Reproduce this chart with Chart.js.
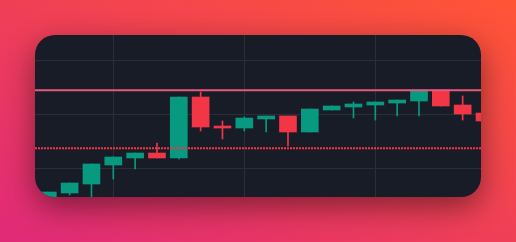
<!DOCTYPE html>
<html>
<head>
<meta charset="utf-8">
<script src="https://cdn.jsdelivr.net/npm/chart.js@4"></script>
<style>
  html, body { margin: 0; padding: 0; width: 516px; height: 242px; overflow: hidden; }
  body { position: relative; background: linear-gradient(to top right, #e02a78, #ff5535); }
  .card {
    position: absolute; left: 35px; top: 35px; width: 446px; height: 162px;
    border-radius: 20px; overflow: hidden; background: #181c27;
    box-shadow: 0 10px 30px rgba(0, 0, 0, 0.45);
  }
  canvas { display: block; }
</style>
</head>
<body>
<div class="card"><canvas id="candles"></canvas></div>
<script>
  // Candle index (x) and OHLC values.
  const bars = [0, 1, 2, 3, 4, 5, 6, 7, 8, 9, 10, 11, 12, 13, 14, 15, 16, 17, 18, 19, 20];
  const opens  = [94.13, 95.43, 97.09, 100.61, 101.91, 102.83, 101.91, 113.20, 107.83, 107.46, 109.13, 109.69, 106.72, 110.80, 111.35, 111.72, 112.09, 112.46, 114.50, 111.72, 110.24];
  const highs  = [95.61, 97.28, 100.80, 102.09, 102.83, 104.69, 113.20, 114.13, 108.76, 109.50, 109.69, 109.69, 110.98, 111.54, 112.28, 112.28, 112.65, 114.50, 114.50, 113.39, 110.24];
  const lows   = [93.80, 95.06, 93.57, 98.02, 99.87, 101.91, 101.72, 106.91, 105.43, 106.91, 106.72, 104.13, 106.72, 110.80, 109.31, 108.94, 109.69, 109.69, 111.54, 108.94, 108.76];
  const closes = [95.61, 97.28, 100.80, 102.09, 102.83, 101.91, 113.20, 107.65, 107.46, 109.31, 109.69, 106.72, 110.98, 111.54, 111.91, 112.28, 112.65, 114.50, 111.54, 110.06, 108.76];

  // Where the grid lines sit (no labels are shown).
  const xGridTicks = [3, 9, 15];
  const yGridTicks = [100, 110, 120];

  // Horizontal price lines.
  const priceLine = 114.44;
  const dottedLine = 103.70;

  const UP = "#089981";
  const DOWN = "#f23645";
  const GRID = "#2a2e39";

  const colors = bars.map(function (i) { return closes[i] >= opens[i] ? UP : DOWN; });

  // Draws the two horizontal lines on top of the candles.
  const priceLines = {
    id: "priceLines",
    afterDatasetsDraw(chart) {
      const ctx = chart.ctx;
      const a = chart.chartArea;
      const y = chart.scales.y;
      ctx.save();
      const yp = y.getPixelForValue(priceLine);
      ctx.strokeStyle = "#e5587f";
      ctx.lineWidth = 2;
      ctx.beginPath();
      ctx.moveTo(a.left, yp);
      ctx.lineTo(a.right, yp);
      ctx.stroke();
      const yd = y.getPixelForValue(dottedLine);
      ctx.strokeStyle = DOWN;
      ctx.lineWidth = 2;
      ctx.setLineDash([2, 1]);
      ctx.beginPath();
      ctx.moveTo(a.left, yd);
      ctx.lineTo(a.right, yd);
      ctx.stroke();
      ctx.restore();
    },
  };

  new Chart(document.getElementById("candles"), {
    type: "bar",
    data: {
      datasets: [
        {
          // bodies
          data: bars.map(function (i) {
            return { x: i, y: [Math.min(opens[i], closes[i]), Math.max(opens[i], closes[i])] };
          }),
          backgroundColor: colors,
          barThickness: 17,
          minBarLength: 1,
          grouped: false,
          order: 0,
        },
        {
          // wicks
          data: bars.map(function (i) { return { x: i, y: [lows[i], highs[i]] }; }),
          backgroundColor: colors,
          barThickness: 1,
          grouped: false,
          order: 1,
        },
      ],
    },
    options: {
      responsive: true,
      maintainAspectRatio: false,
      animation: false,
      events: [],
      layout: { padding: 0 },
      scales: {
        x: {
          type: "linear",
          offset: false,
          min: -0.586,
          max: 19.84,
          ticks: { display: false },
          grid: { color: GRID, drawTicks: false, offset: false },
          border: { display: false },
          afterBuildTicks: function (s) { s.ticks = xGridTicks.map(function (v) { return { value: v }; }); },
        },
        y: {
          min: 94.685,
          max: 124.685,
          ticks: { display: false },
          grid: { color: GRID, drawTicks: false },
          border: { display: false },
          afterBuildTicks: function (s) { s.ticks = yGridTicks.map(function (v) { return { value: v }; }); },
        },
      },
      plugins: { legend: { display: false }, tooltip: { enabled: false } },
    },
    plugins: [priceLines],
  });
</script>
</body>
</html>
